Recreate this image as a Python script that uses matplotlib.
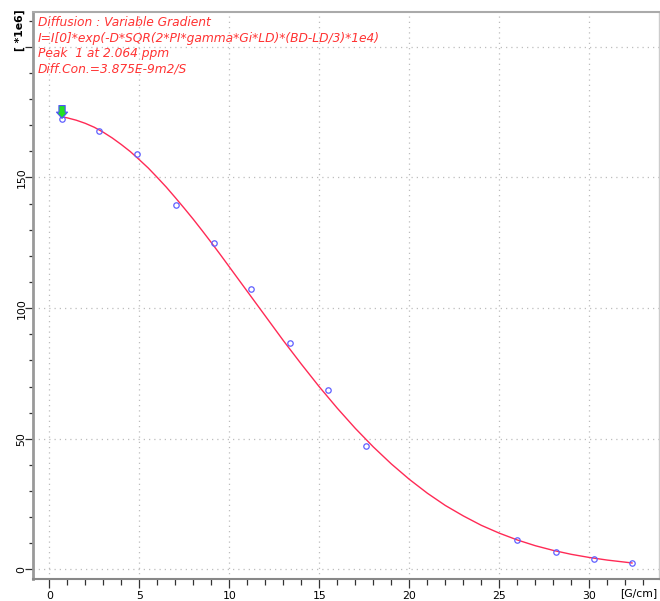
import matplotlib
matplotlib.use("Agg")
import matplotlib.pyplot as plt
from matplotlib.ticker import MultipleLocator

# ---- data ----
gradient = [0.71, 2.79, 4.89, 7.02, 9.15, 11.22, 13.36, 15.47, 17.58,
            26.0, 28.13, 30.26, 32.37]
intensity = [172.3, 167.7, 158.9, 139.6, 124.9, 107.4, 86.5, 68.7, 47.2,
             11.2, 6.8, 4.2, 2.5]

fit_x = [0.71, 1, 1.5, 2, 2.5, 3, 3.5, 4, 4.5, 5, 5.5, 6, 6.5, 7, 7.5, 8,
         8.5, 9, 9.5, 10, 11, 12, 13, 14, 15, 16, 17, 18, 19, 20, 21, 22,
         23, 24, 25, 26, 27, 28, 29, 30, 31, 32, 32.37]
fit_y = [173.2, 172.8, 171.9, 170.7, 169.2, 167.3, 165.1, 162.6, 159.9,
         156.8, 153.6, 150.0, 146.3, 142.3, 138.2, 134.0, 129.6, 125.1,
         120.5, 115.8, 106.4, 97.0, 87.6, 78.6, 69.9, 61.7, 54.0, 46.9,
         40.4, 34.5, 29.2, 24.5, 20.5, 16.9, 13.9, 11.3, 9.1, 7.3, 5.8,
         4.6, 3.6, 2.8, 2.5]

info_lines = ["Diffusion : Variable Gradient",
              "I=I[0]*exp(-D*SQR(2*PI*gamma*Gi*LD)*(BD-LD/3)*1e4)",
              "Peak  1 at 2.064 ppm",
              "Diff.Con.=3.875E-9m2/S"]

x_major = [0, 5, 10, 15, 20, 25, 30]
y_major = [0, 50, 100, 150]

# ---- figure ----
fig = plt.figure(figsize=(6.60, 6.01), dpi=100)
W, H = 660, 601
l, r, t, b = 32.7, 659, 12, 579.3
ax = fig.add_axes([l / W, 1 - b / H, (r - l) / W, (b - t) / H])

ax.set_xlim(-0.92, 33.87)
ax.set_ylim(-3.75, 213.3)

# grid
for xv in x_major:
    ax.axvline(xv, color="#bdbdbd", lw=0.9, ls=(0, (1, 3.2)), zorder=0)
for yv in y_major + [200]:
    ax.axhline(yv, color="#bdbdbd", lw=0.9, ls=(0, (1, 3.2)), zorder=0)

# fit curve and points
ax.plot(fit_x, fit_y, color="#ff2a55", lw=1.0, zorder=2)
ax.plot(gradient, intensity, ls="none", marker="o", ms=3.9, mfc="none",
        mec="#6060ff", mew=0.9, zorder=3)

# green arrow at first point
ax.annotate("", xy=(gradient[0], intensity[0] + 0.3),
            xytext=(gradient[0], intensity[0] + 5.2),
            arrowprops=dict(arrowstyle="simple,head_width=0.8,head_length=0.45,tail_width=0.45",
                            fc="#22e022", ec="#5050ff", lw=0.8,
                            shrinkA=0, shrinkB=0, mutation_scale=10),
            zorder=4)

# info text
for i, line in enumerate(info_lines):
    fig.text(37.5 / W, 1 - (22.7 + 15.5 * i) / H, line, color="#ff3333",
             fontsize=8.8, fontstyle="italic", va="center", ha="left")

# ticks
ax.set_xticks(x_major)
ax.set_xticklabels([str(v) for v in x_major])
ax.xaxis.set_minor_locator(MultipleLocator(1))
ax.set_yticks(y_major + [200])
ax.set_yticklabels([str(v) for v in y_major] + [""])
ax.yaxis.set_minor_locator(MultipleLocator(10))
ax.tick_params(axis="x", which="major", length=6.5, width=0.9, color="#333333",
               labelsize=7.8, pad=2)
ax.tick_params(axis="x", which="minor", length=4, width=0.9, color="#333333")
ax.tick_params(axis="y", which="major", length=6, width=0.9, color="#333333",
               labelsize=7.8, pad=-1.5, labelrotation=90)
ax.tick_params(axis="y", which="minor", length=3, width=0.9, color="#333333")
for lab in ax.get_yticklabels():
    lab.set_va("center")

# spines
ax.spines["left"].set_color("#999999")
ax.spines["left"].set_linewidth(2)
ax.spines["bottom"].set_color("#888888")
ax.spines["bottom"].set_linewidth(1.5)
ax.spines["top"].set_color("#aaaaaa")
ax.spines["top"].set_linewidth(1.5)
ax.spines["right"].set_color("#cccccc")
ax.spines["right"].set_linewidth(1.0)

# unit labels
fig.text(20 / W, 1 - 30 / H, "[ *1e6]", rotation=90, fontsize=7.8,
         fontweight="bold", ha="center", va="center")
fig.text(639 / W, 1 - 593 / H, "[G/cm]", fontsize=7.8, ha="center", va="center")

fig.savefig("out.png", dpi=100)
